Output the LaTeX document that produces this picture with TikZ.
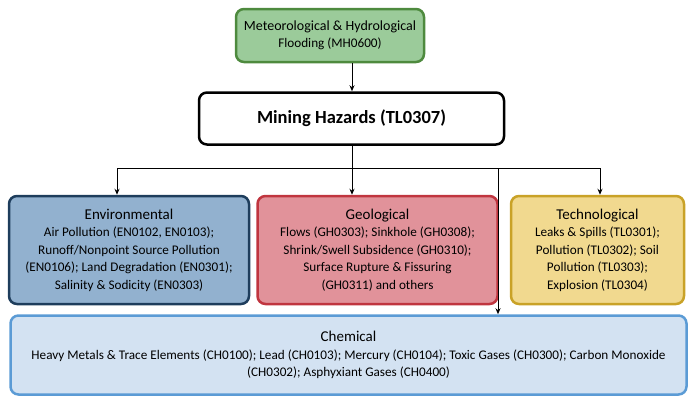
\documentclass[tikz,border=0pt]{standalone}
\usepackage{fontspec}
\setmainfont{Carlito}
\usetikzlibrary{arrows.meta}
\definecolor{gF}{HTML}{9BCB9A}\definecolor{gD}{HTML}{4E8A3E}
\definecolor{bF}{HTML}{92B1CF}\definecolor{bD}{HTML}{1E3D5C}
\definecolor{rF}{HTML}{E1929A}\definecolor{rD}{HTML}{C0353F}
\definecolor{yF}{HTML}{F1D98F}\definecolor{yD}{HTML}{C9A227}
\definecolor{cF}{HTML}{D3E2F2}\definecolor{cD}{HTML}{5B9BD5}
\begin{document}
\begin{tikzpicture}[x=1pt,y=-1pt,
 box/.style={draw,line width=2.5pt,rounded corners=8pt,align=center,inner sep=2pt,font=\fontsize{13.2}{17.5}\selectfont},
 hd/.style={},
 arr/.style={-{Stealth[length=6pt,width=5pt]},line width=0.9pt},
 ln/.style={line width=0.9pt}]
\useasboundingbox (0,0) rectangle (695,402);
\node[box,fill=gF,draw=gD,minimum width=188pt,minimum height=53pt] (met) at (330,35.5)
 {{\fontsize{14}{17.5}\selectfont Meteorological \& Hydrological}\\Flooding (MH0600)};
\node[box,fill=white,draw=black,minimum width=305pt,minimum height=52pt,font=\fontsize{18.5}{20}\selectfont\bfseries] (min) at (351.5,118.5) {Mining Hazards (TL0307)};
\node[box,fill=bF,draw=bD,minimum width=240pt,minimum height=108pt] (env) at (129,250)
 {{\fontsize{15}{18}\selectfont Environmental}\\Air Pollution (EN0102, EN0103);\\Runoff/Nonpoint Source Pollution\\(EN0106); Land Degradation (EN0301);\\Salinity \& Sodicity (EN0303)};
\node[box,fill=rF,draw=rD,minimum width=240pt,minimum height=108pt] (geo) at (377.5,250)
 {{\fontsize{15}{18}\selectfont Geological}\\Flows (GH0303); Sinkhole (GH0308);\\Shrink/Swell Subsidence (GH0310);\\Surface Rupture \& Fissuring\\(GH0311) and others};
\node[box,fill=yF,draw=yD,minimum width=173pt,minimum height=108pt] (tec) at (597.5,250)
 {{\fontsize{15}{18}\selectfont Technological}\\Leaks \& Spills (TL0301);\\Pollution (TL0302); Soil\\Pollution (TL0303);\\Explosion (TL0304)};
\node[box,fill=cF,draw=cD,minimum width=676pt,minimum height=79pt] (che) at (348.5,355)
 {{\fontsize{15}{18}\selectfont Chemical}\\Heavy Metals \& Trace Elements (CH0100); Lead (CH0103); Mercury (CH0104); Toxic Gases (CH0300); Carbon Monoxide\\(CH0302); Asphyxiant Gases (CH0400)};
\draw[arr] (met.south -| 352,0) -- (min.north -| 352,0);
\coordinate (j) at (352,168);
\coordinate (jl) at (117,168);
\coordinate (jr) at (600,168);
\coordinate (jc) at (498,168);
\draw[ln] (min.south -| j) -- (j);
\draw[ln] (jl) -- (jr);
\draw[arr] (jl) -- (env.north -| jl);
\draw[arr] (j) -- (geo.north -| j);
\draw[arr] (jr) -- (tec.north -| jr);
\draw[arr] (jc) -- (che.north -| jc);
\end{tikzpicture}
\end{document}
